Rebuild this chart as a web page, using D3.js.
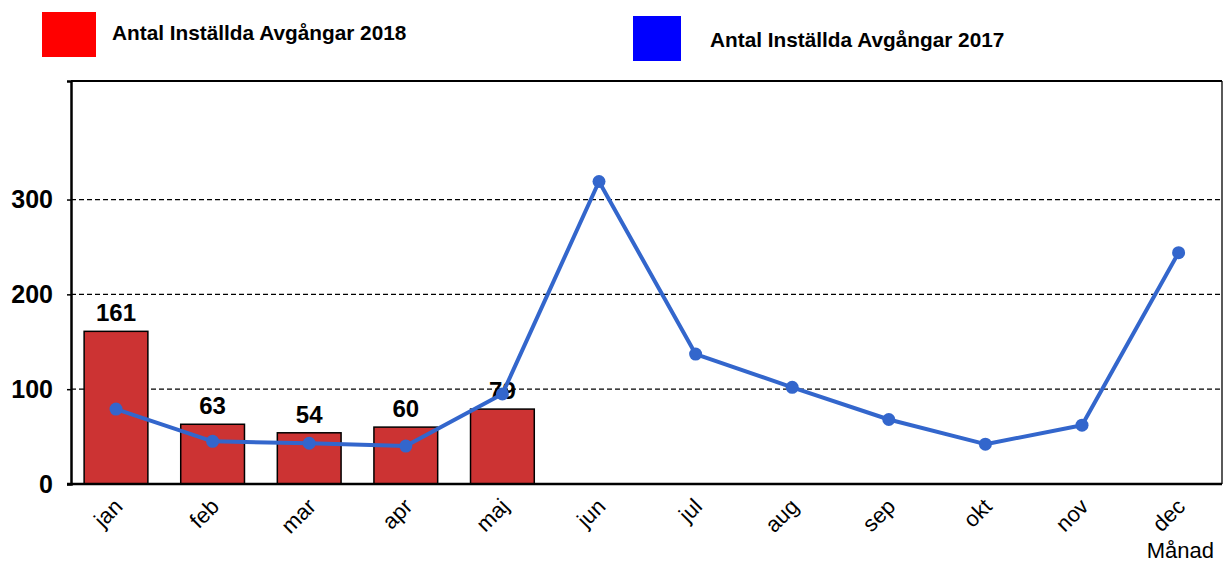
<!DOCTYPE html>
<html>
<head>
<meta charset="utf-8">
<script src="https://cdn.jsdelivr.net/npm/d3@7"></script>
<style>
  body { margin: 0; background: #fff; }
  svg { font-family: "Liberation Sans", Arial, sans-serif; }
</style>
</head>
<body>
<script>
const months = ['jan', 'feb', 'mar', 'apr', 'maj', 'jun', 'jul', 'aug', 'sep', 'okt', 'nov', 'dec'];
const values2018 = [161, 63, 54, 60, 79];
const values2017 = [79, 45, 43, 40, 95, 319, 137, 102, 68, 42, 62, 244];
const yTicks = [0, 100, 200, 300];
const legendLabels = ['Antal Inställda Avgångar 2018', 'Antal Inställda Avgångar 2017'];

const width = 1225;
const height = 562;
const plot = { left: 71, right: 1222, top: 81, bottom: 484 };

const svg = d3.select('body').append('svg')
  .attr('width', width)
  .attr('height', height);

const x = d3.scaleBand()
  .domain(months)
  .range([67.7, 67.7 + 12 * 96.6])
  .padding(0);

const y = d3.scaleLinear()
  .domain([0, 425])
  .range([plot.bottom, plot.top]);

const cx = m => x(m) + x.bandwidth() / 2;

// gridlines
svg.append('g')
  .selectAll('line')
  .data(yTicks.filter(d => d > 0))
  .join('line')
    .attr('x1', plot.left)
    .attr('x2', plot.right)
    .attr('y1', d => y(d))
    .attr('y2', d => y(d))
    .attr('stroke', '#000')
    .attr('stroke-width', 1.3)
    .attr('stroke-dasharray', '5,3');

// frame top/right
svg.append('line')
  .attr('x1', plot.left).attr('x2', plot.right)
  .attr('y1', plot.top).attr('y2', plot.top)
  .attr('stroke', '#000').attr('stroke-width', 2);
svg.append('line')
  .attr('x1', plot.right).attr('x2', plot.right)
  .attr('y1', plot.top).attr('y2', plot.bottom)
  .attr('stroke', '#000').attr('stroke-width', 1.3);

// bars
const barW = x.bandwidth() * 0.66;
svg.append('g')
  .selectAll('rect')
  .data(values2018)
  .join('rect')
    .attr('x', (d, i) => cx(months[i]) - barW / 2)
    .attr('y', d => y(d))
    .attr('width', barW)
    .attr('height', d => y(0) - y(d))
    .attr('fill', '#CC3333')
    .attr('stroke', '#000')
    .attr('stroke-width', 1.5);

// bar labels
svg.append('g')
  .selectAll('text')
  .data(values2018)
  .join('text')
    .attr('x', (d, i) => cx(months[i]))
    .attr('y', d => y(d) - 10)
    .attr('text-anchor', 'middle')
    .attr('font-size', 24)
    .attr('font-weight', 'bold')
    .text(d => d);

// line 2017
const line = d3.line()
  .x((d, i) => cx(months[i]))
  .y(d => y(d));

svg.append('path')
  .datum(values2017)
  .attr('d', line)
  .attr('fill', 'none')
  .attr('stroke', '#3366CC')
  .attr('stroke-width', 4)
  .attr('stroke-linejoin', 'round');

svg.append('g')
  .selectAll('circle')
  .data(values2017)
  .join('circle')
    .attr('cx', (d, i) => cx(months[i]))
    .attr('cy', d => y(d))
    .attr('r', 6.5)
    .attr('fill', '#3366CC');

// y axis
const yAxis = svg.append('g')
  .attr('transform', `translate(${plot.left},0)`)
  .call(d3.axisLeft(y).tickValues(yTicks).tickSize(4).tickPadding(14));
yAxis.select('.domain').attr('stroke-width', 2.5);
yAxis.selectAll('.tick line').attr('stroke-width', 1.5);
yAxis.selectAll('.tick text')
  .attr('font-size', 25)
  .attr('font-weight', 'bold')
  .attr('font-family', '"Liberation Sans", Arial, sans-serif')
  .attr('fill', '#000');

// x axis
svg.append('line')
  .attr('x1', plot.left - 4).attr('x2', plot.right)
  .attr('y1', plot.bottom).attr('y2', plot.bottom)
  .attr('stroke', '#000').attr('stroke-width', 2.5);

svg.append('g')
  .selectAll('text')
  .data(months)
  .join('text')
    .attr('transform', d => `translate(${cx(d) - 3},${plot.bottom + 13}) rotate(-45)`)
    .attr('text-anchor', 'end')
    .attr('dy', '0.7em')
    .attr('font-size', 22)
    .text(d => d);

svg.append('text')
  .attr('x', 1214)
  .attr('y', 558)
  .attr('text-anchor', 'end')
  .attr('font-size', 22)
  .text('Månad');

// legend
const legendItems = [
  { label: legendLabels[0], color: '#FF0000', x: 42, y: 12, w: 54, h: 45, tx: 112, ty: 40 },
  { label: legendLabels[1], color: '#0000FF', x: 633, y: 16, w: 48, h: 45, tx: 710, ty: 47 }
];
const legend = svg.append('g');
legend.selectAll('rect')
  .data(legendItems)
  .join('rect')
    .attr('x', d => d.x)
    .attr('y', d => d.y)
    .attr('width', d => d.w)
    .attr('height', d => d.h)
    .attr('fill', d => d.color);
legend.selectAll('text')
  .data(legendItems)
  .join('text')
    .attr('x', d => d.tx)
    .attr('y', d => d.ty)
    .attr('font-size', 20.8)
    .attr('font-weight', 'bold')
    .text(d => d.label);
</script>
</body>
</html>
